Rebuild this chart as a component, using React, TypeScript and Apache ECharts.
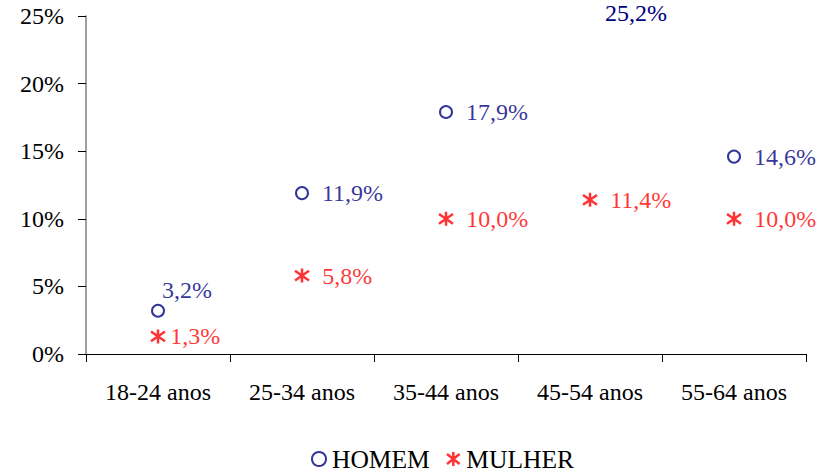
import React, { useEffect, useRef } from "react";
import * as echarts from "echarts";

const categories = ["18-24 anos", "25-34 anos", "35-44 anos", "45-54 anos", "55-64 anos"];
const homem = [3.2, 11.9, 17.9, 25.2, 14.6];
const mulher = [1.3, 5.8, 10.0, 11.4, 10.0];
const yTicks = [0, 5, 10, 15, 20, 25];

const NAVY = "#000080";
const RED = "#FF0000";
const FONT = "Liberation Serif";
const STAR = "path://M0,-10L0,10M-9,-7L9,7M-9,7L9,-7";

const fmt = (v: number) => v.toFixed(1).replace(".", ",") + "%";

export default function App() {
  const ref = useRef<HTMLDivElement>(null);
  useEffect(() => {
    if (!ref.current) return;
    const chart = echarts.init(ref.current, null, { renderer: "svg" });
    const yMax = yTicks[yTicks.length - 1];
    chart.setOption({
      animation: false,
      textStyle: { fontFamily: FONT },
      grid: { left: 86, right: 16, top: 16, bottom: 120, containLabel: false },
      legend: {
        top: 446,
        left: 311,
        padding: 0,
        itemWidth: 14,
        itemHeight: 14,
        itemGap: 16,
        textStyle: { fontFamily: FONT, fontSize: 25.5, color: "#000", padding: [0, 0, 0, 1] },
        data: [
          { name: "HOMEM", icon: "emptyCircle", itemStyle: { color: NAVY, borderColor: NAVY, borderWidth: 2.2 } },
          { name: "MULHER", icon: STAR, itemStyle: { color: RED, borderColor: RED, borderWidth: 2.5 } },
        ],
      },
      xAxis: {
        type: "category",
        data: categories,
        boundaryGap: true,
        axisLine: { lineStyle: { color: "#000", width: 1 } },
        axisTick: { show: true, length: 8, alignWithLabel: false, lineStyle: { color: "#000" } },
        axisLabel: { fontFamily: FONT, fontSize: 24, color: "#000", margin: 26 },
        splitLine: { show: false },
      },
      yAxis: {
        type: "value",
        min: 0,
        max: yMax,
        interval: 5,
        axisLine: { show: true, lineStyle: { color: "#808080", width: 1.5 } },
        axisTick: { show: true, length: 8, lineStyle: { color: "#000" } },
        axisLabel: { fontFamily: FONT, fontSize: 24, color: "#000", margin: 22, formatter: (v: number) => v + "%" },
        splitLine: { show: false },
      },
      series: [
        {
          name: "HOMEM",
          type: "scatter",
          clip: false,
          symbol: "emptyCircle",
          symbolSize: 12,
          itemStyle: { color: NAVY, borderColor: NAVY, borderWidth: 2.2 },
          label: {
            show: true,
            position: "right",
            distance: 13,
            fontFamily: FONT,
            fontSize: 24,
            color: NAVY,
            formatter: (p: any) => fmt(p.value),
          },
          data: homem.map((v, i) => {
            if (i === 0) return { value: v, label: { distance: -3, offset: [0, -21] } };
            if (v > yMax)
              return {
                value: v,
                itemStyle: { color: "transparent", borderColor: "transparent", opacity: 0 },
                label: { distance: 8, opacity: 1 },
              };
            return v;
          }),
        },
        {
          name: "MULHER",
          type: "scatter",
          clip: false,
          symbol: STAR,
          symbolSize: 14,
          itemStyle: { color: RED, borderColor: RED, borderWidth: 2.5 },
          label: {
            show: true,
            position: "right",
            distance: 12,
            fontFamily: FONT,
            fontSize: 24,
            color: RED,
            formatter: (p: any) => fmt(p.value),
          },
          data: mulher.map((v, i) => (i === 0 ? { value: v, label: { distance: 4 } } : v)),
        },
      ],
    });
    return () => chart.dispose();
  }, []);
  return <div ref={ref} style={{ width: 822, height: 474, position: "absolute", left: 0, top: 0 }} />;
}
